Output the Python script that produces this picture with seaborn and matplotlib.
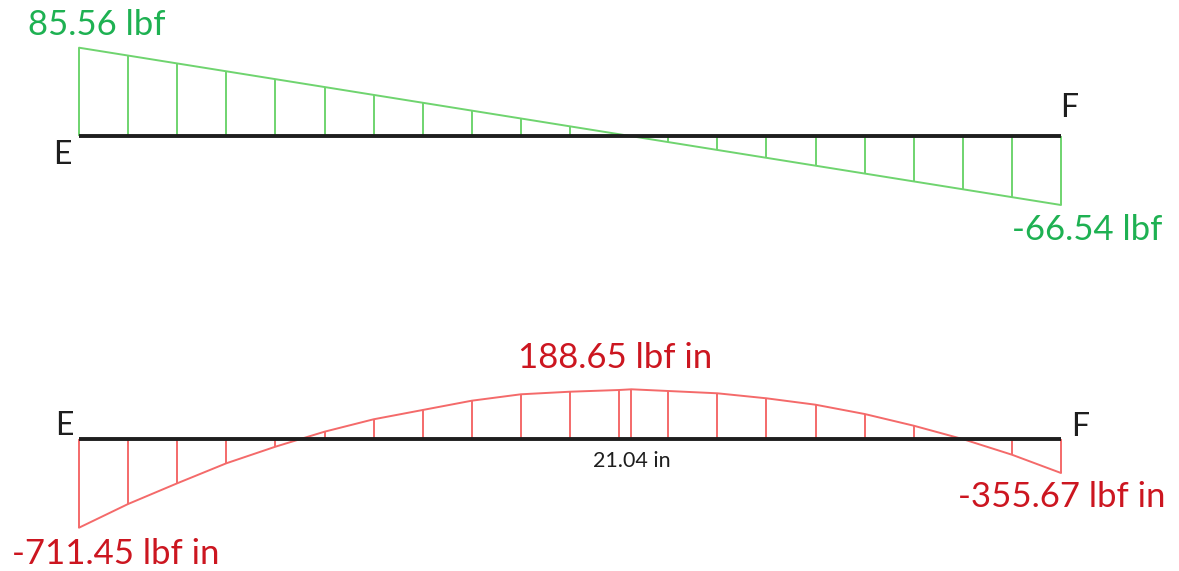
import numpy as np
import pandas as pd
import matplotlib
matplotlib.use("Agg")
import matplotlib.pyplot as plt
import seaborn as sns

# Beam E-F: stations along the span (in)
stations = [0.00, 1.87, 3.74, 5.61, 7.48, 9.35, 11.22, 13.09, 14.96, 16.83, 18.70,
            20.57, 22.44, 24.31, 26.18, 28.05, 29.92, 31.79, 33.66, 35.53, 37.40]

# Shear force at each station (lbf)
shear = [85.56, 77.96, 70.35, 62.75, 55.14, 47.54, 39.93, 32.33, 24.72, 17.12, 9.51,
         1.91, -5.70, -13.31, -20.91, -28.52, -36.12, -43.73, -51.33, -58.94, -66.54]

# Bending moment at each station (lbf in)
moment = [-711.45, -557.3, -422.7, -254.2, -80.5, 27.7, 74.8, 110.1, 145.4, 169.7, 179.5,
          186.0, 182.2, 173.5, 154.5, 130.2, 94.9, 50.5, -1.0, -164.2, -355.67]

# Peak moment location and value
x_peak = 21.04
m_peak = 188.65

shear_labels = ["85.56 lbf", "-66.54 lbf"]
moment_labels = ["-711.45 lbf in", "188.65 lbf in", "-355.67 lbf in"]
peak_label = "21.04 in"
end_names = ["E", "F"]

GREEN_LINE = "#6fd46f"
GREEN_TEXT = "#1eb152"
RED_LINE = "#f46a6a"
RED_TEXT = "#cc1620"
BEAM = "#1e1e1e"

sns.set_theme(style="white")
plt.rcParams["font.family"] = ["Lato", "DejaVu Sans"]

W, H = 1179, 571
fig = plt.figure(figsize=(W / 100, H / 100), dpi=100)
fig.patch.set_facecolor("white")

L = stations[-1]
px_per_in = 982 / L
xlim = (-79 / px_per_in, (W - 79) / px_per_in)

VAL_FS = 25
END_FS = 23

# ---------------- shear diagram ----------------
top_h = 285
ax_v = fig.add_axes([0, (H - top_h) / H, 1, top_h / H])
s = (205 - 47.7) / (shear[0] - shear[-1])
ax_v.set_xlim(*xlim)
ax_v.set_ylim(shear[0] - (top_h - 47.7) / s, shear[0] + 47.7 / s)

df_v = pd.DataFrame({"x": stations, "V": shear})
sns.lineplot(data=df_v, x="x", y="V", ax=ax_v, color=GREEN_LINE, lw=1.4, sort=False)
ax_v.vlines(stations, 0, shear, color=GREEN_LINE, lw=1.4, zorder=2)
ax_v.hlines(0, 0, L, color=BEAM, lw=2.8, zorder=3)

ax_v.annotate(shear_labels[0], (0, shear[0]), xytext=(-51, 23), textcoords="offset pixels",
              ha="left", va="center", fontsize=VAL_FS, color=GREEN_TEXT)
ax_v.annotate(shear_labels[1], (L, shear[-1]), xytext=(-49, -25), textcoords="offset pixels",
              ha="left", va="center", fontsize=VAL_FS, color=GREEN_TEXT)
ax_v.annotate(end_names[0], (0, 0), xytext=(-8, -19), textcoords="offset pixels",
              ha="right", va="center", fontsize=END_FS, color=BEAM)
ax_v.annotate(end_names[1], (L, 0), xytext=(-1, 28), textcoords="offset pixels",
              ha="left", va="center", fontsize=END_FS, color=BEAM)

# ---------------- moment diagram ----------------
# piecewise-linear vertical scale: sagging and hogging parts drawn at their own size
knots_data = np.array([-1.0e4, moment[0], moment[-1], 0.0, m_peak, 1.0e4])
knots_disp = np.array([-88.7 - (1.0e4 + moment[0]) * (54.7 / (moment[-1] - moment[0])),
                       -88.7, -34.0, 0.0, 49.7,
                       49.7 + (1.0e4 - m_peak) * (49.7 / m_peak)])


def fwd(v):
    return np.interp(v, knots_data, knots_disp)


def inv(d):
    return np.interp(d, knots_disp, knots_data)


bot_h = H - top_h
ax_m = fig.add_axes([0, 0, 1, bot_h / H])
ax_m.set_yscale("function", functions=(fwd, inv))
ax_m.set_xlim(*xlim)
ax_m.set_ylim(inv(-(H - 439)), inv(439 - top_h))

xm = stations[:12] + [x_peak] + stations[12:]
ym = moment[:12] + [m_peak] + moment[12:]
df_m = pd.DataFrame({"x": xm, "M": ym})
sns.lineplot(data=df_m, x="x", y="M", ax=ax_m, color=RED_LINE, lw=1.4, sort=False)
ax_m.vlines(xm, 0, ym, color=RED_LINE, lw=1.4, zorder=2)
ax_m.hlines(0, 0, L, color=BEAM, lw=2.8, zorder=3)

ax_m.annotate(moment_labels[0], (0, moment[0]), xytext=(-67, -26), textcoords="offset pixels",
              ha="left", va="center", fontsize=VAL_FS, color=RED_TEXT)
ax_m.annotate(moment_labels[1], (x_peak, m_peak), xytext=(-16, 31), textcoords="offset pixels",
              ha="center", va="center", fontsize=VAL_FS, color=RED_TEXT)
ax_m.annotate(moment_labels[2], (L, moment[-1]), xytext=(-103, -24), textcoords="offset pixels",
              ha="left", va="center", fontsize=VAL_FS, color=RED_TEXT)
ax_m.annotate(peak_label, (x_peak, 0), xytext=(0, -22), textcoords="offset pixels",
              ha="center", va="center", fontsize=15.5, color=BEAM)
ax_m.annotate(end_names[0], (0, 0), xytext=(-6, 13), textcoords="offset pixels",
              ha="right", va="center", fontsize=END_FS, color=BEAM)
ax_m.annotate(end_names[1], (L, 0), xytext=(10, 12), textcoords="offset pixels",
              ha="left", va="center", fontsize=END_FS, color=BEAM)

for ax in (ax_v, ax_m):
    ax.set_axis_off()

fig.savefig("out.png", dpi=100, facecolor="white")
